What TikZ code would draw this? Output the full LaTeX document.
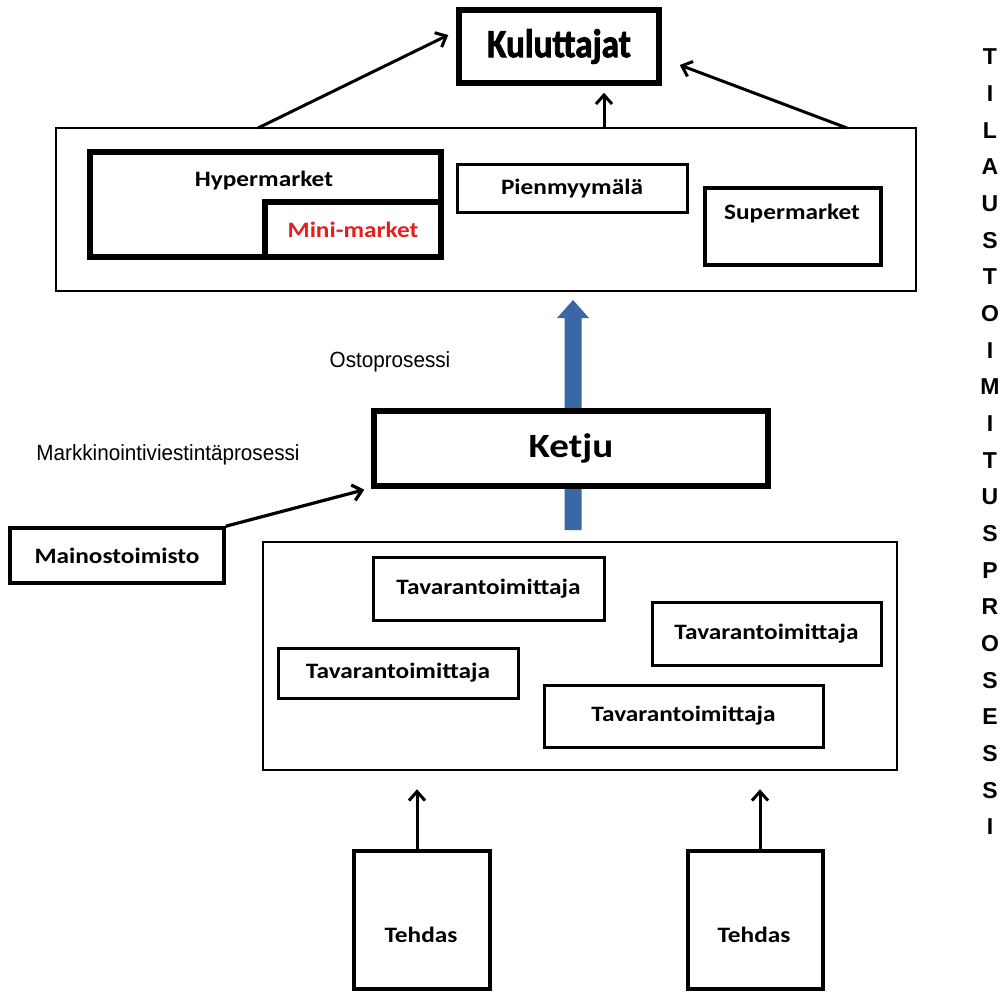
\documentclass[tikz,border=0pt]{standalone}
\usepackage{fontspec}
\usetikzlibrary{arrows.meta}
\setmainfont{Carlito}
\newfontfamily\boxfont[FakeStretch=1.15]{Carlito}
\newfontfamily\kulfont[FakeStretch=0.88,BoldFeatures={FakeBold=2}]{Carlito}
\newfontfamily\narrowfont[FakeStretch=0.94]{Liberation Sans}
\newfontfamily\vertfont{Liberation Sans}
\definecolor{arrowblue}{RGB}{58,104,164}
\definecolor{minired}{RGB}{230,30,30}
\begin{document}
\begin{tikzpicture}[x=1pt,y=-1pt,
  box/.style={draw=black, fill=white, rectangle, inner sep=0pt, line width=#1},
  box/.default=3pt,
  lbl/.style={inner sep=0pt, font=\boxfont\bfseries\fontsize{22}{26}\selectfont},
  thin/.style={inner sep=0pt, font=\narrowfont\fontsize{22}{26}\selectfont},
  arr/.style={line width=3pt, -{Straight Barb[length=9pt,width=16pt]}}
]
\useasboundingbox (0,0) rectangle (1003,992);

% blue process arrow (drawn first, Ketju box covers its middle)
\fill[arrowblue] (564.5,530) -- (564.5,318) -- (557,318) -- (573,300) -- (589,318) -- (581.5,318) -- (581.5,530) -- cycle;

% consumers
\node[box=5.5pt, minimum width=200, minimum height=73,
      font=\kulfont\bfseries\fontsize{40}{40}\selectfont] (kul) at (559,46.5) {Kuluttajat};

% stores frame
\node[box=2.6pt, minimum width=860, minimum height=163] (stores) at (486,209.5) {};
\node[box=6pt, minimum width=351, minimum height=105] (hyper) at (265.5,204.5) {};
\node[lbl] (hyperlbl) at (264,181) {Hypermarket};
\node[box=6pt, minimum width=176, minimum height=55, lbl, text=minired] (mini) at (353,229.5) {Mini-market};
\node[box=3pt, minimum width=230, minimum height=48, lbl] (pien) at (572,189) {Pienmyymälä};
\node[box=3.5pt, minimum width=176, minimum height=77] (super) at (793,226.5) {};
\node[lbl] (superlbl) at (792,214) {Supermarket};

% arrows to consumers
\coordinate (s1) at (258,128);
\coordinate (s2) at (604,128);
\coordinate (s3) at (847,128);
\draw[arr] (s1) -- ([xshift=-8pt,yshift=11.5pt]kul.west);
\draw[arr, shorten >=7pt] (s2) -- (s2 |- kul.south);
\draw[arr] (s3) -- ([xshift=18pt,yshift=-18.5pt]kul.east);

% process labels
\node[thin] (osto) at (390,362) {Ostoprosessi};
\node[thin] (markk) at (168,455) {Markkinointiviestintäprosessi};

% chain
\node[box=5.5pt, minimum width=394, minimum height=75,
      font=\boxfont\bfseries\fontsize{34}{36}\selectfont] (ketju) at (571,448.5) {Ketju};

% advertising agency
\node[box=3.5pt, minimum width=214, minimum height=55, lbl] (mainos) at (117,555.5) {Mainostoimisto};
\draw[arr, line width=3.2pt] (mainos.north east) -- ([xshift=-7pt,yshift=-1pt]ketju.south west);

% suppliers frame
\node[box=2.6pt, minimum width=634, minimum height=228] (suppliers) at (580,656) {};
\node[box=3pt, minimum width=231, minimum height=63, lbl] (tav1) at (488.5,588.5) {Tavarantoimittaja};
\node[box=3pt, minimum width=229, minimum height=63, lbl] (tav2) at (766.5,633.5) {Tavarantoimittaja};
\node[box=3pt, minimum width=240, minimum height=50, lbl] (tav3) at (398,673) {Tavarantoimittaja};
\node[box=3pt, minimum width=279, minimum height=62, lbl] (tav4) at (683.5,716) {Tavarantoimittaja};

% factories
\node[box=3.5pt, minimum width=136, minimum height=138] (teh1) at (422,920) {};
\node[lbl] (teh1lbl) at (421,935) {Tehdas};
\node[box=3.5pt, minimum width=135, minimum height=138] (teh2) at (755.5,920) {};
\node[lbl] (teh2lbl) at (754,935) {Tehdas};
\draw[arr, shorten >=18pt] ([xshift=-5pt]teh1.north) -- ([xshift=-5pt]teh1.north |- suppliers.south);
\draw[arr, shorten >=18pt] ([xshift=4.5pt]teh2.north) -- ([xshift=4.5pt]teh2.north |- suppliers.south);

% vertical process text
\node[inner sep=0pt, align=center, font=\vertfont\bfseries\fontsize{23}{36.67}\selectfont] (tilaus) at (990,442)
  {T\\I\\L\\A\\U\\S\\T\\O\\I\\M\\I\\T\\U\\S\\P\\R\\O\\S\\E\\S\\S\\I};
\end{tikzpicture}
\end{document}
